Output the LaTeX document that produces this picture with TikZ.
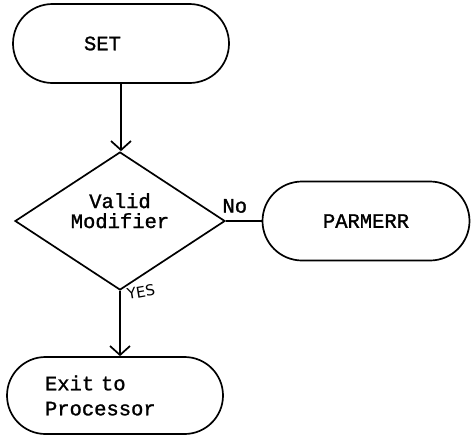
\documentclass[tikz,border=0pt]{standalone}
\usepackage{fontspec}
\newfontfamily\flfont{Liberation Mono}[BoldFont=Liberation Mono,BoldFeatures={FakeBold=1.2}]
\newfontfamily\handfont{DejaVu Sans}
\usetikzlibrary{shapes.geometric,shapes.misc,arrows.meta}
\begin{document}
\begin{tikzpicture}[x=1pt,y=-1pt,
    flTerm/.style={draw,line width=1.7pt,rounded rectangle,minimum width=216pt,minimum height=79pt,inner sep=0pt,font=\flfont\bfseries\fontsize{20.5}{25}\selectfont},
    flDec/.style={draw,line width=1.7pt,diamond,shape aspect=1.52,minimum width=210pt,minimum height=138pt,inner sep=0pt,align=center,font=\flfont\bfseries\fontsize{20.5}{20}\selectfont},
    flArr/.style={line width=1.7pt,-{Straight Barb[length=9pt,width=20pt,line width=1.7pt]}},
    flLine/.style={line width=1.7pt},
    flTxt/.style={font=\flfont\bfseries\fontsize{20.5}{25}\selectfont},
]
\useasboundingbox (0,0) rectangle (472,437);
% Boxes
\node[flTerm] (SET) at (121,43.5) {\makebox[74pt][l]{SET}};
\node[flDec,text height=16pt,text depth=2pt] (MOD) at (120,221) {Valid\\Modifier};
\node[flTerm,minimum width=207pt] (PARM) at (366,221) {PARMERR};
\node[flTerm,minimum height=77pt,text width=140pt,align=left] (EXIT) at (115,395.5) {Exit to\\Processor};
% Connectors
\draw[flArr] (SET.south) -- (SET.south |- MOD.north);
\draw[flLine] (MOD.east) -- node[flTxt,pos=0.25,above=4pt] (NO) {No} (PARM.west);
\draw[flArr] (MOD.south) -- (MOD.south |- EXIT.north);
% Handwritten yes
\node[font=\handfont\fontsize{15}{15}\selectfont,rotate=10,inner sep=0pt] (YES) at (141,292) {YES};
\end{tikzpicture}
\end{document}
